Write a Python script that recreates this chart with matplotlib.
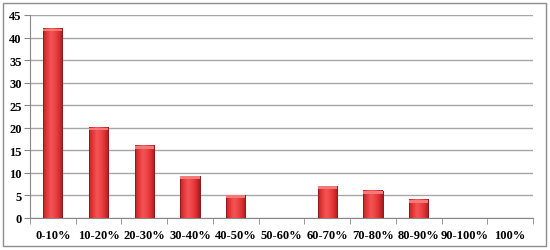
import numpy as np
import matplotlib.pyplot as plt
from matplotlib.patches import Rectangle
from matplotlib.colors import LinearSegmentedColormap

categories = ["0-10%", "10-20%", "20-30%", "30-40%", "40-50%", "50-60%",
              "60-70%", "70-80%", "80-90%", "90-100%", "100%"]
values = [42, 20, 16, 9.2, 5, 0, 7, 6, 4, 0, 0]
y_ticks = [0, 5, 10, 15, 20, 25, 30, 35, 40, 45]

plt.rcParams["font.family"] = "Liberation Serif"
plt.rcParams["font.weight"] = "bold"

fig = plt.figure(figsize=(5.5, 2.51), dpi=100)
ax = fig.add_axes([30 / 550, 32 / 251, 503 / 550, 203 / 251])

x = np.arange(len(categories))
bw = 0.42
bars = ax.bar(x, values, width=bw, color="#e53a3c", edgecolor="#9c1c1c", linewidth=0.6, zorder=3)

# horizontal gradient to give the bars a rounded look
cmap = LinearSegmentedColormap.from_list("bar", ["#b52427", "#e8393b", "#f35557", "#ee4446", "#dc3033", "#a81c20"])
grad = np.linspace(0, 1, 64).reshape(1, -1)
for b, v in zip(bars, values):
    if v <= 0:
        continue
    x0 = b.get_x()
    ax.imshow(grad, cmap=cmap, aspect="auto", extent=(x0, x0 + bw, 0, v), zorder=3.5)
    ax.add_patch(Rectangle((x0, 0), bw, v, fill=False, edgecolor="#8c1a1a", linewidth=0.6, zorder=4))
    ax.add_patch(Rectangle((x0, v - 0.6), bw, 0.6, facecolor="#f47a7a", edgecolor="none", zorder=4))

ax.set_xlim(-0.5, len(categories) - 0.5)
ax.set_ylim(0, 45)
ax.set_yticks(y_ticks)
ax.set_xticks(x)
ax.set_xticklabels(categories, fontsize=9, fontweight="bold")
ax.set_xticks(np.arange(-0.5, len(categories), 1), minor=True)
ax.tick_params(axis="x", which="major", length=0, pad=8)
ax.tick_params(axis="x", which="minor", length=4, color="#888888", direction="out")
ax.tick_params(axis="y", labelsize=9, length=4, color="#888888", pad=2)
for lab in ax.get_yticklabels():
    lab.set_fontweight("bold")
ax.yaxis.grid(True, color="#a6a6a6", linewidth=1.0, zorder=0)
ax.set_axisbelow(True)
for s in ["top", "right"]:
    ax.spines[s].set_visible(False)
ax.spines["left"].set_color("#888888")
ax.spines["bottom"].set_color("#888888")

fig.patches.append(Rectangle((3 / 550, 4 / 251), 543 / 550, 243 / 251, transform=fig.transFigure,
                             fill=False, edgecolor="#8c8c8c", linewidth=1.0))

fig.savefig("out.png", dpi=100)
